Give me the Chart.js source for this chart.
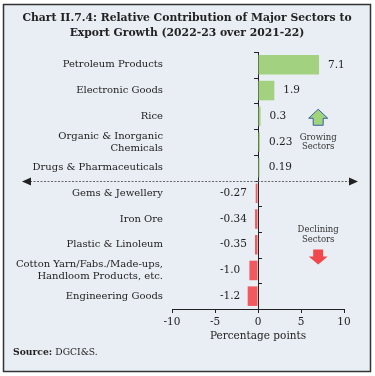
<!DOCTYPE html>
<html><head><meta charset="utf-8">
<script src="https://cdn.jsdelivr.net/npm/chart.js@4.4.1/dist/chart.umd.min.js"></script>
<style>html,body{margin:0;padding:0;background:#fff}#wrap{width:375px;height:376px;position:relative}</style>
</head><body><div id="wrap"><canvas id="c" width="375" height="376"></canvas></div>
<script>
const categories = [
  "Petroleum Products",
  "Electronic Goods",
  "Rice",
  ["Organic & Inorganic", "Chemicals"],
  "Drugs & Pharmaceuticals",
  "Gems & Jewellery",
  "Iron Ore",
  "Plastic & Linoleum",
  ["Cotton Yarn/Fabs./Made-ups,", "Handloom Products, etc."],
  "Engineering Goods"
];
const values = [7.1, 1.9, 0.3, 0.23, 0.19, -0.27, -0.34, -0.35, -1.0, -1.2];
const valueLabels = ["7.1", "1.9", "0.3", "0.23", "0.19", "-0.27", "-0.34", "-0.35", "-1.0", "-1.2"];
const xTicks = [-10, -5, 0, 5, 10];
const titleLines = ["Chart II.7.4: Relative Contribution of Major Sectors to", "Export Growth (2022-23 over 2021-22)"];

const SERIF = "'DejaVu Serif', serif";
const GREEN = '#a2d27f', RED = '#f05a5e', BG = '#e9eef4', TXT = '#222';

const decor = {
  id: 'decor',
  beforeDraw(chart) {
    const ctx = chart.ctx;
    ctx.save();
    ctx.fillStyle = '#fff';
    ctx.fillRect(0, 0, chart.width, chart.height);
    ctx.fillStyle = BG;
    ctx.fillRect(3, 4, 368, 368);
    ctx.strokeStyle = '#333';
    ctx.lineWidth = 1.5;
    ctx.strokeRect(3.5, 4.5, 367, 367);
    // title
    ctx.fillStyle = TXT;
    ctx.font = "bold 10.8px " + SERIF;
    ctx.textAlign = 'center';
    ctx.textBaseline = 'middle';
    ctx.fillText(titleLines[0], 187, 18);
    ctx.fillText(titleLines[1], 187, 33);
    // source
    ctx.textAlign = 'left';
    ctx.font = "bold 9.2px " + SERIF;
    const s = "Source: ";
    ctx.fillText(s, 13, 353);
    const w = ctx.measureText(s).width;
    ctx.font = "9.2px " + SERIF;
    ctx.fillText("DGCI&S.", 13 + w, 353);
    ctx.restore();
  },
  afterDatasetsDraw(chart) {
    const ctx = chart.ctx;
    const xs = chart.scales.x, ys = chart.scales.y;
    const zero = xs.getPixelForValue(0);
    ctx.save();
    // category tick marks on zero axis
    ctx.strokeStyle = '#222';
    ctx.lineWidth = 1;
    const half = (ys.getPixelForValue(1) - ys.getPixelForValue(0)) / 2;
    for (let i = 0; i <= categories.length; i++) {
      const y = Math.round(ys.getPixelForValue(i) - half) + 0.5;
      ctx.beginPath();
      if (i <= 5) { ctx.moveTo(zero - 4, y); ctx.lineTo(zero, y); }
      else { ctx.moveTo(zero, y); ctx.lineTo(zero + 4, y); }
      ctx.stroke();
    }
    // value labels
    ctx.font = "10.5px " + SERIF;
    ctx.fillStyle = TXT;
    ctx.textBaseline = 'middle';
    ctx.textAlign = 'left';
    values.forEach((v, i) => {
      const y = ys.getPixelForValue(i);
      if (v >= 0) {
        const end = xs.getPixelForValue(v);
        ctx.fillText(valueLabels[i], Math.max(end + 9, zero + 4), y);
      } else {
        ctx.fillText(valueLabels[i], zero - 38, y);
      }
    });
    // dashed divider with arrows
    const yd = Math.round(ys.getPixelForValue(4) + half) + 0.5;
    ctx.strokeStyle = '#666';
    ctx.setLineDash([2, 1.5]);
    ctx.beginPath();
    ctx.moveTo(30, yd); ctx.lineTo(350, yd);
    ctx.stroke();
    ctx.setLineDash([]);
    ctx.fillStyle = '#222';
    ctx.beginPath(); ctx.moveTo(22, yd); ctx.lineTo(31, yd - 4); ctx.lineTo(31, yd + 4); ctx.closePath(); ctx.fill();
    ctx.beginPath(); ctx.moveTo(358, yd); ctx.lineTo(349, yd - 4); ctx.lineTo(349, yd + 4); ctx.closePath(); ctx.fill();
    // growing arrow
    const ax = xs.getPixelForValue(7);
    const gy = ys.getPixelForValue(2);
    ctx.fillStyle = '#9fd47a';
    ctx.strokeStyle = '#3b5ea8';
    ctx.lineWidth = 1;
    ctx.beginPath();
    ctx.moveTo(ax, gy - 7);
    ctx.lineTo(ax + 9.5, gy + 2);
    ctx.lineTo(ax + 5, gy + 2);
    ctx.lineTo(ax + 5, gy + 9);
    ctx.lineTo(ax - 5, gy + 9);
    ctx.lineTo(ax - 5, gy + 2);
    ctx.lineTo(ax - 9.5, gy + 2);
    ctx.closePath();
    ctx.fill(); ctx.stroke();
    ctx.fillStyle = '#333';
    ctx.font = "8.5px " + SERIF;
    ctx.textAlign = 'center';
    const gt = ys.getPixelForValue(3);
    ctx.fillText("Growing", ax, gt - 4);
    ctx.fillText("Sectors", ax, gt + 5);
    // declining
    const dy = ys.getPixelForValue(6.5);
    ctx.fillText("Declining", ax, dy - 2);
    ctx.fillText("Sectors", ax, dy + 8);
    const ry = ys.getPixelForValue(7.5);
    ctx.fillStyle = '#f0484c';
    ctx.beginPath();
    ctx.moveTo(ax - 5, ry - 8);
    ctx.lineTo(ax + 5, ry - 8);
    ctx.lineTo(ax + 5, ry - 1);
    ctx.lineTo(ax + 9.5, ry - 1);
    ctx.lineTo(ax, ry + 7);
    ctx.lineTo(ax - 9.5, ry - 1);
    ctx.lineTo(ax - 5, ry - 1);
    ctx.closePath();
    ctx.fill();
    ctx.restore();
  }
};

new Chart(document.getElementById('c'), {
  type: 'bar',
  data: {
    labels: categories,
    datasets: [{
      data: values,
      backgroundColor: values.map(v => v >= 0 ? GREEN : RED),
      borderWidth: 0,
      barPercentage: 0.76,
      categoryPercentage: 1
    }]
  },
  options: {
    indexAxis: 'y',
    responsive: false,
    animation: false,
    devicePixelRatio: 1,
    layout: { padding: { top: 52, right: 31, left: 0, bottom: 33 } },
    plugins: { legend: { display: false }, tooltip: { enabled: false } },
    scales: {
      x: {
        min: -10, max: 10,
        afterBuildTicks(scale) { scale.ticks = xTicks.map(v => ({ value: v })); },
        afterFit(scale) { scale.height = 34; },
        grid: {
          drawOnChartArea: true,
          color: ctx => (ctx.tick && ctx.tick.value === 0) ? '#222' : 'rgba(0,0,0,0)',
          tickColor: '#222',
          tickLength: 4,
          lineWidth: 1
        },
        border: { display: true, color: '#222', width: 1 },
        ticks: { color: TXT, font: { family: SERIF, size: 10.5 }, padding: 3, maxRotation: 0 },
        title: { display: true, text: 'Percentage points', color: TXT, font: { family: SERIF, size: 10.5 }, padding: { top: 2, bottom: 0 } }
      },
      y: {
        afterFit(scale) { scale.width = 172; },
        grid: { display: false, drawTicks: false },
        border: { display: false },
        ticks: { color: TXT, font: { family: SERIF, size: 10, lineHeight: 1.2 }, padding: 9, autoSkip: false }
      }
    }
  },
  plugins: [decor]
});
</script>
</body></html>
